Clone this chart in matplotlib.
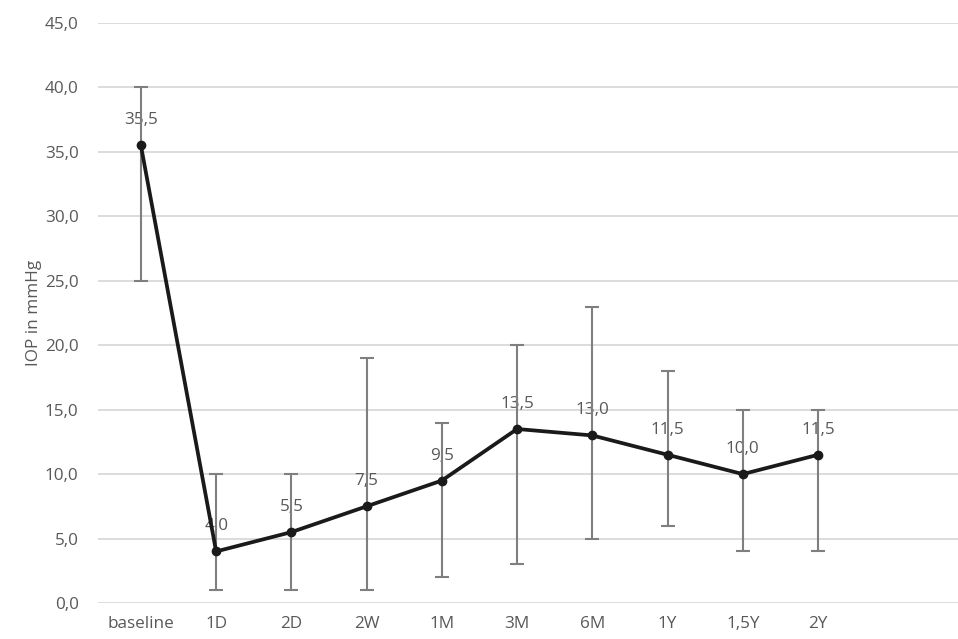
import numpy as np
import matplotlib
matplotlib.use("Agg")
import matplotlib.pyplot as plt

plt.rcParams['font.family'] = ['Open Sans', 'DejaVu Sans']

# IOP over follow-up
timepoints = ['baseline', '1D', '2D', '2W', '1M', '3M', '6M', '1Y', '1,5Y', '2Y']
iop_median = [35.5, 4.0, 5.5, 7.5, 9.5, 13.5, 13.0, 11.5, 10.0, 11.5]
iop_low = [25, 1, 1, 1, 2, 3, 5, 6, 4, 4]
iop_high = [40, 10, 10, 19, 14, 20, 23, 18, 15, 15]

grey_text = '#595959'
fs = 12.3

fig = plt.figure(figsize=(9.58, 6.39), dpi=100)
ax = fig.add_axes([98/958, 1 - 603/639, 1 - 98/958, (603 - 23)/639])

x = np.arange(len(timepoints))
med = np.array(iop_median)
yerr = [med - np.array(iop_low), np.array(iop_high) - med]

ax.errorbar(x, med, yerr=yerr, fmt='none', ecolor='#7f7f7f', elinewidth=1.5,
            capsize=5, capthick=1.5, zorder=2)
ax.plot(x, med, color='#1a1a1a', linewidth=2.7, marker='o', markersize=6, zorder=3)

for xi, v in zip(x, iop_median):
    ax.annotate(f'{v:.1f}'.replace('.', ','), (xi, v), xytext=(0, 18),
                textcoords='offset points', ha='center', va='center',
                fontsize=fs, color=grey_text, zorder=1)

ax.set_ylim(0, 45)
ax.set_yticks(np.arange(0, 46, 5))
ax.set_yticklabels([f'{t:.1f}'.replace('.', ',') for t in np.arange(0, 46, 5)])
ax.set_xlim(-0.57, 10.86)
ax.set_xticks(x)
ax.set_xticklabels(timepoints)

ax.grid(axis='y', color='#d9d9d9', linewidth=1.3)
ax.set_axisbelow(True)
for s in ax.spines.values():
    s.set_visible(False)
ax.tick_params(length=0, labelsize=fs, labelcolor=grey_text, pad=9)
ax.tick_params(axis='y', pad=14)
ax.set_ylabel('IOP in mmHg', fontsize=fs, color=grey_text, labelpad=2)

fig.savefig('out.png', dpi=100)
